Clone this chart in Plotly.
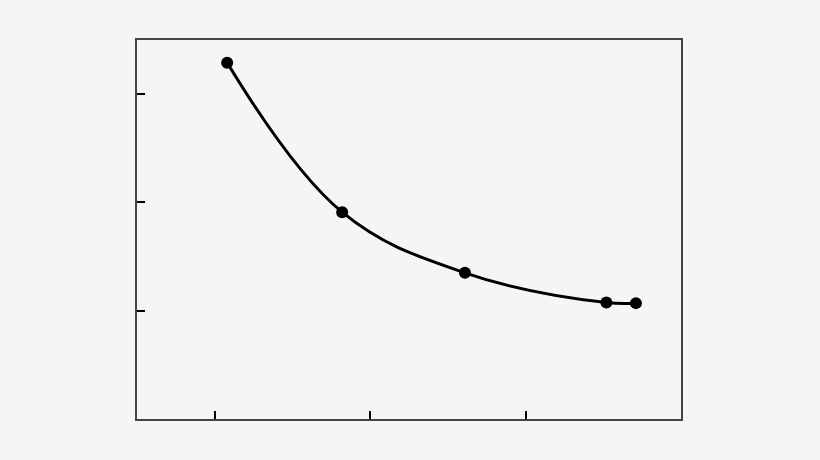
import plotly.graph_objects as go

# Okunan nokta değerleri (eksen birimleri)
x_degerleri = [1.08, 1.82, 2.61, 3.52, 3.71]
y_degerleri = [3.29, 1.91, 1.35, 1.075, 1.07]

x_tickler = [1, 2, 3]
y_tickler = [1, 2, 3]

fig = go.Figure()
fig.add_trace(go.Scatter(
    x=x_degerleri, y=y_degerleri,
    mode="lines+markers",
    line=dict(color="black", width=3, shape="spline", smoothing=1.1),
    marker=dict(color="black", size=12),
    showlegend=False,
))

eksen = dict(showgrid=False, zeroline=False, showline=True, linecolor="#444", linewidth=1.5,
             mirror=True, ticks="inside", ticklen=8, tickwidth=2, tickcolor="black",
             showticklabels=False)

fig.update_layout(
    width=820, height=460,
    margin=dict(l=137, r=139, t=40, b=41),
    paper_bgcolor="#f5f5f5", plot_bgcolor="#f5f5f5",
    xaxis=dict(range=[0.5, 4.0], tickvals=x_tickler, **eksen),
    yaxis=dict(range=[0, 3.5], tickvals=y_tickler, **eksen),
)
# sayfa kenar boşluğunu kaldır, araç çubuğunu gizle
fig.write_html("out.html", config={"displayModeBar": False},
               post_script="document.body.style.margin='0';document.body.style.background='#f5f5f5';")
